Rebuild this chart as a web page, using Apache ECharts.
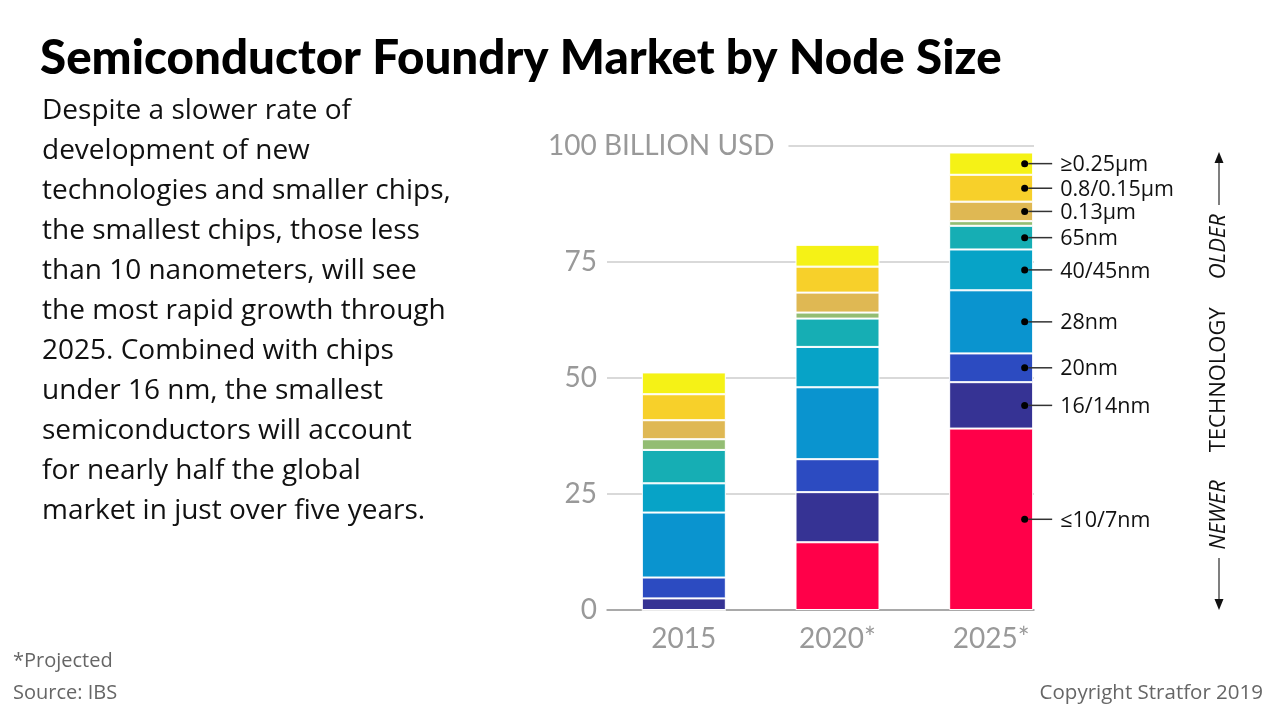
<!DOCTYPE html>
<html>
<head>
<meta charset="utf-8">
<script src="https://cdn.jsdelivr.net/npm/echarts@6/dist/echarts.min.js"></script>
<style>
  html, body { margin: 0; padding: 0; background: #fff; }
  #chart { width: 1280px; height: 718px; }
</style>
</head>
<body>
<div id="chart"></div>
<script>
// years on the x axis
const years = ['2015', '2020*', '2025*'];

// node sizes, bottom of the stack first
const nodes = ['≤10/7nm', '16/14nm', '20nm', '28nm', '40/45nm', '65nm', '90nm', '0.13µm', '0.8/0.15µm', '≥0.25µm'];
const nodeColors = ['#ff0049', '#363394', '#2c4bc1', '#0a94cf', '#07a3c7', '#16aeb4', '#93bd73', '#dfb853', '#f7d02a', '#f5f216'];
// nodes without a callout label
const unlabeled = ['90nm'];

// billion USD, one list per year, same order as nodes
const values2015 = [0, 2.5, 4.5, 14.0, 6.3, 7.2, 2.3, 4.1, 5.6, 4.7];
const values2020 = [14.6, 10.8, 7.1, 15.5, 8.7, 6.1, 1.3, 4.3, 5.6, 4.7];
const values2025 = [39.1, 10.0, 6.2, 13.6, 8.8, 5.1, 1.0, 4.2, 5.8, 4.8];

const yTicks = [0, 25, 50, 75, 100];

const intro = [
  'Despite a slower rate of',
  'development of new',
  'technologies and smaller chips,',
  'the smallest chips, those less',
  'than 10 nanometers, will see',
  'the most rapid growth through',
  '2025. Combined with chips',
  'under 16 nm, the smallest',
  'semiconductors will account',
  'for nearly half the global',
  'market in just over five years.'
];

const font = 'Lato, "Open Sans", sans-serif';
const textFont = '"Open Sans", Lato, sans-serif';
const gray = '#999';

let myChart = echarts.init(document.getElementById('chart'));

const byYear = [values2015, values2020, values2025];

const series = nodes.map(function (name, i) {
  const data = byYear.map(function (vals, y) {
    if (y === byYear.length - 1 && unlabeled.indexOf(name) < 0) {
      return { value: vals[i], label: { show: true } };
    }
    return vals[i];
  });
  return {
    name: name,
    type: 'bar',
    stack: 'total',
    xAxisIndex: 1,
    yAxisIndex: 1,
    barWidth: 84,
    itemStyle: { color: nodeColors[i], borderColor: '#fff', borderWidth: 1 },
    label: {
      show: false,
      position: [72, '50%'],
      align: 'left',
      verticalAlign: 'middle',
      formatter: '{dot| }{ln| }{t|' + name + '}',
      rich: {
        dot: { width: 7, height: 7, borderRadius: 3.5, backgroundColor: '#000', fontSize: 1 },
        ln: { width: 24, height: 1.5, backgroundColor: '#333', fontSize: 1 },
        t: { fontFamily: textFont, fontSize: 21.5, color: '#111', padding: [3, 0, 0, 8] }
      }
    },
    emphasis: { disabled: true },
    data: data
  };
});

const option = {
  animation: false,
  backgroundColor: '#fff',
  title: [
    {
      text: 'Semiconductor Foundry Market by Node Size',
      left: 40, top: 32, padding: 0,
      textStyle: { fontFamily: font, fontSize: 47.5, fontWeight: 900, color: '#000', lineHeight: 54 }
    },
    {
      text: intro.join('\n'),
      left: 42, top: 91, padding: 0,
      textStyle: { fontFamily: textFont, fontSize: 28, fontWeight: 'normal', color: '#111', lineHeight: 40 }
    },
    {
      text: '*Projected\nSource: IBS',
      left: 13, top: 645, padding: 0,
      textStyle: { fontFamily: textFont, fontSize: 20, fontWeight: 'normal', color: '#666', lineHeight: 32 }
    },
    {
      text: 'Copyright Stratfor 2019',
      right: 17, top: 677, padding: 0,
      textStyle: { fontFamily: textFont, fontSize: 20.5, fontWeight: 'normal', color: '#666', lineHeight: 32 }
    }
  ],
  grid: [
    { left: 607, right: 246, top: 146, height: 464 },
    { left: 607, width: 461, top: 146, height: 464 }
  ],
  xAxis: [
    {
      gridIndex: 0, type: 'category', data: [''],
      axisLine: { lineStyle: { color: gray, width: 1.5 } },
      axisTick: { show: false }, axisLabel: { show: false }, splitLine: { show: false }
    },
    {
      gridIndex: 1, type: 'category', data: years,
      axisLine: { show: false }, axisTick: { show: false }, splitLine: { show: false },
      axisLabel: { fontFamily: font, fontSize: 28, color: gray, margin: 15 }
    }
  ],
  yAxis: [
    {
      gridIndex: 0, type: 'value', min: 0, max: 100, interval: 25,
      axisLine: { show: false }, axisTick: { show: false },
      splitLine: { lineStyle: { color: '#ccc', width: 1.5 } },
      axisLabel: {
        margin: 59,
        align: 'left',
        formatter: function (v) {
          if (v === yTicks[yTicks.length - 1]) return '{big|' + v + ' BILLION USD}';
          return '{n|' + v + '}';
        },
        rich: {
          n: { fontFamily: font, fontSize: 28, color: gray, width: 49, align: 'right' },
          big: { fontFamily: font, fontSize: 28, color: gray, backgroundColor: '#fff', padding: [0, 14, 0, 0] }
        }
      }
    },
    {
      gridIndex: 1, type: 'value', min: 0, max: 100, interval: 25, show: false,
      splitLine: { show: false }
    }
  ],
  graphic: [
    {
      type: 'text',
      x: 1219, y: 382,
      rotation: Math.PI / 2,
      style: {
        text: '{i|NEWER}{u|TECHNOLOGY}{i|OLDER}',
        align: 'center', verticalAlign: 'middle',
        rich: {
          i: { fontFamily: textFont, fontSize: 22, fontStyle: 'italic', fill: '#111' },
          u: { fontFamily: textFont, fontSize: 22, fill: '#111', padding: [0, 28, 0, 28] }
        }
      }
    },
    { type: 'line', shape: { x1: 1219, y1: 205, x2: 1219, y2: 160 }, style: { stroke: '#555', lineWidth: 1.5 } },
    { type: 'polygon', shape: { points: [[1219, 152], [1214.5, 163], [1223.5, 163]] }, style: { fill: '#111' } },
    { type: 'line', shape: { x1: 1219, y1: 558, x2: 1219, y2: 602 }, style: { stroke: '#555', lineWidth: 1.5 } },
    { type: 'polygon', shape: { points: [[1219, 610], [1214.5, 599], [1223.5, 599]] }, style: { fill: '#111' } }
  ],
  series: series
};

myChart.setOption(option);
window.onresize = function () {
  myChart.resize();
};
</script>
</body>
</html>
